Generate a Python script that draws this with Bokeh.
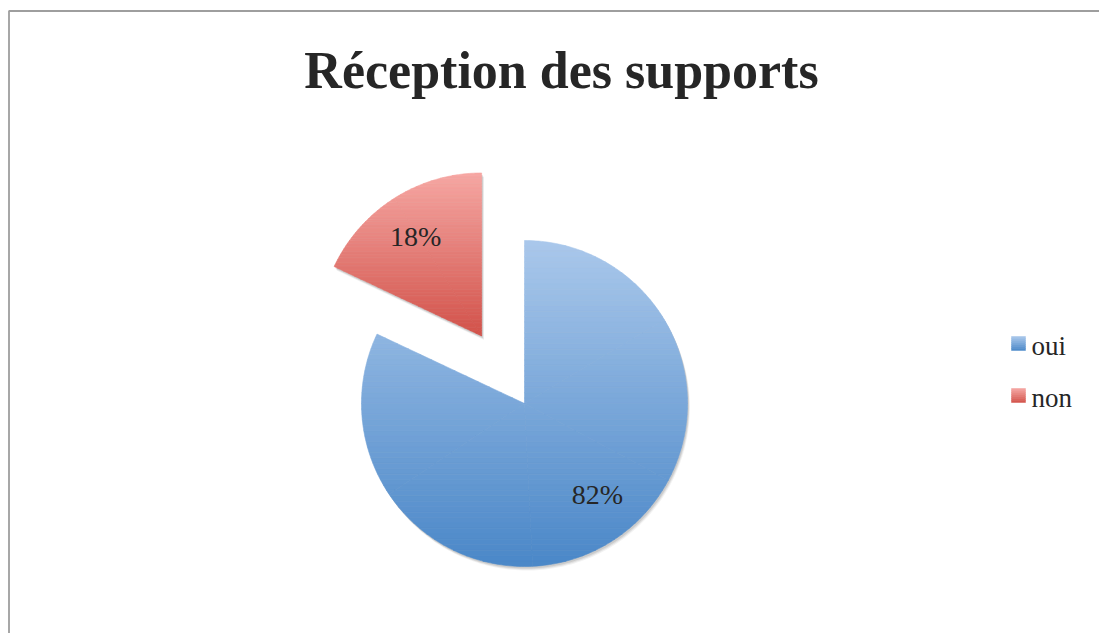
import numpy as np
from bokeh.plotting import figure
from bokeh.models import Range1d, BoxAnnotation
from bokeh.core.properties import value
from bokeh.embed import file_html
from bokeh.resources import INLINE

# ---- data ----
title = "Réception des supports"
categories = ["oui", "non"]
values = [82, 18]
top_colors = ["#aac8eb", "#f6a7a3"]
bottom_colors = ["#4a87c8", "#d2524a"]

W, H = 1099, 633
FONT = "Liberation Serif"

p = figure(width=W, height=H, output_backend="svg", toolbar_location=None,
           x_range=Range1d(0, W), y_range=Range1d(0, H), min_border=0)
p.axis.visible = False
p.grid.visible = False
p.outline_line_color = None
p.background_fill_color = "white"
p.border_fill_color = "white"

# chart border (left and top visible)
p.add_layout(BoxAnnotation(left=8.5, right=W + 20, top=H - 10.5, bottom=-20,
                           fill_alpha=0, line_color="#9e9e9e", line_alpha=1.0, line_width=1.8))

# title
p.text(x=[561], y=[H - 70], text=[title], text_font=value(FONT), text_font_style="bold",
       text_font_size="52px", text_align="center", text_baseline="middle", text_color="#262626")

cx, cy, R = 524.0, H - 403.0, 163.0
explode = [0.0, 80.0]
label_shift = [(10.0, 8.0), (-3.0, 0.0)]


def hex2rgb(h):
    h = h.lstrip("#")
    return np.array([int(h[i:i + 2], 16) for i in (0, 2, 4)], dtype=float)


def mix(c0, c1, t):
    c = hex2rgb(c0) * (1 - t) + hex2rgb(c1) * t
    return "#%02x%02x%02x" % tuple(int(round(v)) for v in c)


def clip_half(poly, y_lim, keep_above):
    out = []
    n = len(poly)
    for i in range(n):
        a = poly[i]
        b = poly[(i + 1) % n]
        ina = a[1] >= y_lim if keep_above else a[1] <= y_lim
        inb = b[1] >= y_lim if keep_above else b[1] <= y_lim
        if ina:
            out.append(a)
        if ina != inb:
            t = (y_lim - a[1]) / (b[1] - a[1])
            out.append((a[0] + t * (b[0] - a[0]), y_lim))
    return out


def gradient_bands(polys, ytop, ybot, c_top, c_bot, nb=40):
    xs, ys, cols = [], [], []
    h = (ytop - ybot) / nb
    for poly in polys:
        for k in range(nb):
            y1 = ytop - k * h
            y0 = y1 - h
            q = clip_half(poly, y0, True)
            if len(q) < 3:
                continue
            q = clip_half(q, y1, False)
            if len(q) < 3:
                continue
            xs.append([pt[0] for pt in q])
            ys.append([pt[1] for pt in q])
            cols.append(mix(c_top, c_bot, (k + 0.5) / nb))
    return xs, ys, cols


total = float(sum(values))
start = 90.0  # 12 o'clock, going clockwise
for i, v in enumerate(values):
    sweep = 360.0 * v / total
    a_end = start            # anticlockwise coordinates
    a_start = start - sweep
    mid = np.deg2rad((a_start + a_end) / 2)
    ox = cx + explode[i] * np.cos(mid)
    oy = cy + explode[i] * np.sin(mid)
    angs = np.deg2rad(np.linspace(a_start, a_end, 240))
    poly = [(ox, oy)] + [(ox + R * np.cos(a), oy + R * np.sin(a)) for a in angs]
    # soft shadow
    for s, al in [(4, 0.05), (3, 0.07), (2, 0.09)]:
        p.patch([pt[0] + s * 0.6 for pt in poly], [pt[1] - s for pt in poly],
                fill_color="#000000", fill_alpha=al, line_color=None)
    # split into convex sub-wedges (<= 60 deg each)
    nsub = int(np.ceil(sweep / 60.0))
    edges = np.linspace(a_start, a_end, nsub + 1)
    subs = []
    for j in range(nsub):
        aa = np.deg2rad(np.linspace(edges[j], edges[j + 1], 60))
        subs.append([(ox, oy)] + [(ox + R * np.cos(a), oy + R * np.sin(a)) for a in aa])
    ymax = max(pt[1] for pt in poly)
    ymin = min(pt[1] for pt in poly)
    xs, ys, cols = gradient_bands(subs, ymax, ymin, top_colors[i], bottom_colors[i], 60)
    p.patches(xs, ys, fill_color=cols, line_color=cols, line_width=0.6)
    # percentage label
    lr = R * 0.72
    lx = ox + lr * np.cos(mid) + label_shift[i][0]
    ly = oy + lr * np.sin(mid) + label_shift[i][1]
    p.text(x=[lx], y=[ly], text=[f"{v}%"], text_font=value(FONT), text_font_size="28px",
           text_align="center", text_baseline="middle", text_color="#262626")
    start = a_start

# legend
leg_x, leg_y0, leg_dy, sq = 1011.0, H - 343.0, 52.0, 14.0
for i, c in enumerate(categories):
    ly = leg_y0 - i * leg_dy
    poly = [(leg_x, ly - sq / 2), (leg_x + sq, ly - sq / 2), (leg_x + sq, ly + sq / 2), (leg_x, ly + sq / 2)]
    xs, ys, cols = gradient_bands([poly], ly + sq / 2, ly - sq / 2, top_colors[i], bottom_colors[i], 7)
    p.patches(xs, ys, fill_color=cols, line_color=cols, line_width=0.5)
    p.text(x=[leg_x + sq + 6], y=[ly - 2], text=[c], text_font=value(FONT), text_font_size="27px",
           text_align="left", text_baseline="middle", text_color="#262626")

open("out.html", "w").write(file_html(p, INLINE))
